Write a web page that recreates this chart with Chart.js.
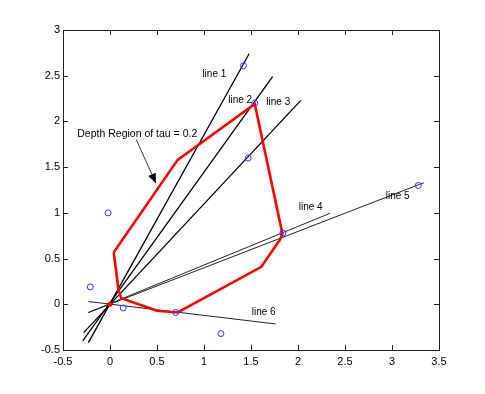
<!DOCTYPE html>
<html>
<head>
<meta charset="utf-8">
<script src="https://cdn.jsdelivr.net/npm/chart.js@4/dist/chart.umd.min.js"></script>
<style>
  html, body { margin: 0; padding: 0; background: #fff; }
  #wrap { width: 485px; height: 394px; }
</style>
</head>
<body>
<div id="wrap"><canvas id="depthChart" width="485" height="394"></canvas></div>
<script>
// sample points (blue circles)
const sampleX = [1.42, 1.54, 1.47, 3.28, 1.84, -0.02, -0.21, 0.14, 0.70, 1.18];
const sampleY = [2.61, 2.20, 1.60, 1.30, 0.78, 1.00, 0.19, -0.04, -0.09, -0.32];

// depth region polygon (red)
const regionX = [0.04, 0.72, 1.54, 1.835, 1.81, 1.61, 0.72, 0.50, 0.12, 0.09, 0.04];
const regionY = [0.57, 1.58, 2.19, 0.77, 0.71, 0.41, -0.09, -0.07, 0.065, 0.16, 0.57];

// the six lines, as end points
const line1X = [-0.23, 1.48], line1Y = [-0.42, 2.74];
const line2X = [-0.29, 1.73], line2Y = [-0.40, 2.49];
const line3X = [-0.28, 2.03], line3Y = [-0.31, 2.23];
const line4X = [-0.23, 2.34], line4Y = [-0.09, 0.995];
const line5X = [-0.23, 3.34], line5Y = [-0.09, 1.33];
const line6X = [-0.23, 1.76], line6Y = [0.03, -0.215];

const centerX = [0], centerY = [0];

const labelText = ["line 1", "line 2", "line 3", "line 4", "line 5", "line 6"];
const labelX = [1.11, 1.385, 1.79, 2.135, 3.06, 1.635];
const labelY = [2.52, 2.227, 2.205, 1.064, 1.184, -0.085];

const noteText = "Depth Region of tau = 0.2";
const noteX = 0.29, noteY = 1.86;
const arrowX = [0.28, 0.49];
const arrowY = [1.80, 1.32];

const xTicks = [-0.5, 0, 0.5, 1, 1.5, 2, 2.5, 3, 3.5];
const yTicks = [-0.5, 0, 0.5, 1, 1.5, 2, 2.5, 3];

const FONT = "'Liberation Sans', Arial, Helvetica, sans-serif";

function pts(xs, ys) {
  return xs.map((x, i) => ({ x: x, y: ys[i] }));
}

function lineSet(xs, ys, width, color) {
  return {
    data: pts(xs, ys),
    showLine: true,
    borderColor: color,
    borderWidth: width,
    pointRadius: 0,
    fill: false,
    tension: 0
  };
}

// MATLAB style box with inward ticks + text annotations
const matlabBox = {
  id: "matlabBox",
  afterDatasetsDraw(chart) {
    const ctx = chart.ctx;
    const a = chart.chartArea;
    const xs = chart.scales.x, ys = chart.scales.y;
    ctx.save();

    // annotations
    ctx.fillStyle = "#000";
    ctx.textAlign = "center";
    ctx.textBaseline = "middle";
    ctx.font = "10px " + FONT;
    labelText.forEach((t, i) => {
      ctx.fillText(t, xs.getPixelForValue(labelX[i]), ys.getPixelForValue(labelY[i]));
    });
    ctx.font = "10.5px " + FONT;
    ctx.fillText(noteText, xs.getPixelForValue(noteX), ys.getPixelForValue(noteY));

    // arrow
    const x0 = xs.getPixelForValue(arrowX[0]), y0 = ys.getPixelForValue(arrowY[0]);
    const x1 = xs.getPixelForValue(arrowX[1]), y1 = ys.getPixelForValue(arrowY[1]);
    const ang = Math.atan2(y1 - y0, x1 - x0);
    const headLen = 10, headW = 4;
    const bx = x1 - headLen * Math.cos(ang), by = y1 - headLen * Math.sin(ang);
    ctx.strokeStyle = "#000";
    ctx.lineWidth = 0.8;
    ctx.beginPath();
    ctx.moveTo(x0, y0);
    ctx.lineTo(bx, by);
    ctx.stroke();
    ctx.beginPath();
    ctx.moveTo(x1, y1);
    ctx.lineTo(bx + headW * Math.sin(ang), by - headW * Math.cos(ang));
    ctx.lineTo(bx - headW * Math.sin(ang), by + headW * Math.cos(ang));
    ctx.closePath();
    ctx.fill();

    // box
    ctx.strokeStyle = "#222";
    ctx.lineWidth = 1;
    ctx.strokeRect(Math.round(a.left) + 0.5, Math.round(a.top) + 0.5,
      Math.round(a.right - a.left), Math.round(a.bottom - a.top));

    // inward ticks on all four sides
    const tl = 5;
    ctx.beginPath();
    xTicks.forEach(v => {
      const px = Math.round(xs.getPixelForValue(v)) + 0.5;
      ctx.moveTo(px, a.bottom); ctx.lineTo(px, a.bottom - tl);
      ctx.moveTo(px, a.top); ctx.lineTo(px, a.top + tl);
    });
    yTicks.forEach(v => {
      const py = Math.round(ys.getPixelForValue(v)) + 0.5;
      ctx.moveTo(a.left, py); ctx.lineTo(a.left + tl, py);
      ctx.moveTo(a.right, py); ctx.lineTo(a.right - tl, py);
    });
    ctx.stroke();
    ctx.restore();
  }
};

new Chart(document.getElementById("depthChart").getContext("2d"), {
  type: "scatter",
  data: {
    datasets: [
      {
        data: pts(sampleX, sampleY),
        pointStyle: "circle",
        pointRadius: 3,
        borderColor: "#3333ff",
        backgroundColor: "rgba(0,0,0,0)",
        borderWidth: 1,
        showLine: false
      },
      {
        data: pts(centerX, centerY),
        pointRadius: 2.5,
        borderWidth: 0,
        backgroundColor: "#ff0000",
        showLine: false
      },
      lineSet(regionX, regionY, 2.6, "#ff0000"),
      lineSet(line1X, line1Y, 1.3, "#000"),
      lineSet(line2X, line2Y, 1.3, "#000"),
      lineSet(line3X, line3Y, 1.3, "#000"),
      lineSet(line4X, line4Y, 1, "#222"),
      lineSet(line5X, line5Y, 1, "#222"),
      lineSet(line6X, line6Y, 1, "#222")
    ]
  },
  options: {
    responsive: false,
    animation: false,
    layout: { padding: { top: 30, right: 46, left: 0, bottom: 0 } },
    plugins: {
      legend: { display: false },
      tooltip: { enabled: false }
    },
    scales: {
      x: {
        type: "linear",
        min: -0.5,
        max: 3.5,
        afterFit: s => { s.height = 44; },
        afterBuildTicks: s => { s.ticks = xTicks.map(v => ({ value: v })); },
        grid: { display: false, drawTicks: false },
        border: { display: false },
        ticks: { color: "#000", padding: 5, maxRotation: 0, font: { family: FONT, size: 11 },
          callback: v => String(v) }
      },
      y: {
        type: "linear",
        min: -0.5,
        max: 3,
        afterFit: s => { s.width = 63; },
        afterBuildTicks: s => { s.ticks = yTicks.map(v => ({ value: v })); },
        grid: { display: false, drawTicks: false },
        border: { display: false },
        ticks: { color: "#000", padding: 3, font: { family: FONT, size: 11 },
          callback: v => String(v) }
      }
    }
  },
  plugins: [matlabBox]
});
</script>
</body>
</html>
